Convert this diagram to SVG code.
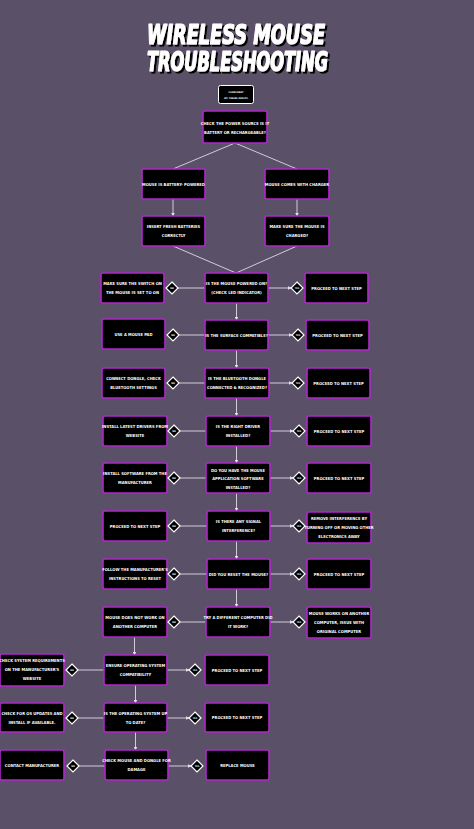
<svg xmlns="http://www.w3.org/2000/svg" width="474" height="829" viewBox="0 0 474 829">
<defs>
<marker id="ah" markerWidth="4" markerHeight="4" refX="3.5" refY="2" orient="auto" markerUnits="userSpaceOnUse"><path d="M0,0 L4,2 L0,4 z" fill="#e6e1ec"/></marker>
<filter id="shadow" x="-5%" y="-20%" width="110%" height="150%"><feDropShadow dx="2" dy="2" stdDeviation="0.4" flood-color="#000" flood-opacity="1"/></filter>
</defs>
<style>
.bg{fill:#5a5068}
.n rect{fill:#000;stroke:#b126cc;stroke-width:1.6}
.t{font-family:"DejaVu Sans Condensed","Liberation Sans",sans-serif;font-size:4.1px;font-weight:bold;fill:#fff;text-anchor:middle}
.dt{font-family:"DejaVu Sans Condensed",sans-serif;font-size:2.4px;font-weight:bold;fill:#fff;text-anchor:middle}
.d polygon{fill:#000;stroke:#fff;stroke-width:1.2}
.c line{stroke:#e0dae8;stroke-width:0.9;fill:none}
.ttl{font-family:"DejaVu Sans Condensed",sans-serif;font-size:26px;font-weight:bold;font-style:italic;text-anchor:middle;fill:#fff;stroke:#fff;stroke-width:1.2;stroke-linejoin:round}
</style>
<rect class="bg" x="0" y="0" width="474" height="829"/>

<g id="title" filter="url(#shadow)">
<text class="ttl" x="236" y="43.5" textLength="178" lengthAdjust="spacingAndGlyphs">WIRELESS MOUSE</text>
<text class="ttl" x="237.5" y="70.5" textLength="181" lengthAdjust="spacingAndGlyphs">TROUBLESHOOTING</text>
</g>
<g id="credit">
<rect x="218.5" y="85.5" width="35" height="18" rx="2" fill="#000" stroke="#fff" stroke-width="1"/>
<text class="dt" x="236" y="92.5">FLOWCHART</text>
<text class="dt" x="236" y="99">BY: TOBIAS PHELPS</text>
</g>

<g id="connectors" class="c">
<line x1="235" y1="143" x2="173" y2="169"/>
<line x1="235" y1="143" x2="297" y2="169"/>
<line x1="173" y1="199" x2="173" y2="216" marker-end="url(#ah)"/>
<line x1="297" y1="199" x2="297" y2="216" marker-end="url(#ah)"/>
<line x1="173" y1="246" x2="236" y2="273"/>
<line x1="297" y1="246" x2="236" y2="273"/>
<line x1="236.5" y1="303" x2="236.5" y2="320" marker-end="url(#ah)"/>
<line x1="236.5" y1="350" x2="236.5" y2="368" marker-end="url(#ah)"/>
<line x1="236.5" y1="398" x2="236.5" y2="416" marker-end="url(#ah)"/>
<line x1="236.5" y1="446" x2="236.5" y2="463" marker-end="url(#ah)"/>
<line x1="236.5" y1="493" x2="236.5" y2="511" marker-end="url(#ah)"/>
<line x1="236.5" y1="541" x2="236.5" y2="559" marker-end="url(#ah)"/>
<line x1="236.5" y1="589" x2="236.5" y2="607" marker-end="url(#ah)"/>
<line x1="134.5" y1="637" x2="134.5" y2="655" marker-end="url(#ah)"/>
<line x1="135.5" y1="685" x2="135.5" y2="703" marker-end="url(#ah)"/>
<line x1="135.5" y1="732" x2="135.5" y2="750" marker-end="url(#ah)"/>
<line x1="205" y1="288" x2="178" y2="288"/><line x1="268" y1="288" x2="291" y2="288" marker-end="url(#ah)"/>
<line x1="205" y1="335" x2="179" y2="335"/><line x1="268" y1="335" x2="292" y2="335" marker-end="url(#ah)"/>
<line x1="205" y1="383" x2="179" y2="383"/><line x1="268" y1="383" x2="292" y2="383" marker-end="url(#ah)"/>
<line x1="206" y1="431" x2="180" y2="431"/><line x1="270" y1="431" x2="293" y2="431" marker-end="url(#ah)"/>
<line x1="206" y1="478" x2="180" y2="478"/><line x1="270" y1="478" x2="293" y2="478" marker-end="url(#ah)"/>
<line x1="207" y1="526" x2="180" y2="526"/><line x1="270" y1="526" x2="293" y2="526" marker-end="url(#ah)"/>
<line x1="207" y1="574" x2="180" y2="574"/><line x1="270" y1="574" x2="293" y2="574" marker-end="url(#ah)"/>
<line x1="206" y1="622" x2="180" y2="622"/><line x1="270" y1="622" x2="293" y2="622" marker-end="url(#ah)"/>
<line x1="104" y1="670" x2="78" y2="670"/><line x1="167" y1="670" x2="189" y2="670" marker-end="url(#ah)"/>
<line x1="104" y1="718" x2="78" y2="718"/><line x1="167" y1="718" x2="189" y2="718" marker-end="url(#ah)"/>
<line x1="105" y1="766" x2="79" y2="766"/><line x1="168" y1="766" x2="191" y2="766" marker-end="url(#ah)"/>
</g>

<g id="n-power-source" class="n"><rect x="203" y="111" width="64" height="32" rx="2"/><text class="t" x="235" y="125">CHECK THE POWER SOURCE IS IT</text><text class="t" x="235" y="134">BATTERY OR RECHARGEABLE?</text></g>
<g id="n-battery" class="n"><rect x="142" y="169" width="63" height="30" rx="2"/><text class="t" x="173.5" y="185.5">MOUSE IS BATTERY- POWERED</text></g>
<g id="n-charger" class="n"><rect x="265" y="169" width="64" height="30" rx="2"/><text class="t" x="297" y="185.5">MOUSE COMES WITH CHARGER</text></g>
<g id="n-insert" class="n"><rect x="142" y="216" width="63" height="30" rx="2"/><text class="t" x="173.5" y="228">INSERT FRESH BATTERIES</text><text class="t" x="173.5" y="237">CORRECTLY</text></g>
<g id="n-charged" class="n"><rect x="265" y="216" width="64" height="30" rx="2"/><text class="t" x="297" y="228">MAKE SURE THE MOUSE IS</text><text class="t" x="297" y="237">CHARGED?</text></g>

<g id="n-powered" class="n"><rect x="205" y="273" width="63" height="30" rx="2"/><text class="t" x="236.5" y="285">IS THE MOUSE POWERED ON?</text><text class="t" x="236.5" y="294">(CHECK LED INDICATOR)</text></g>
<g id="n-switch" class="n"><rect x="101" y="273" width="63" height="30" rx="2"/><text class="t" x="132.5" y="285">MAKE SURE THE SWITCH   ON</text><text class="t" x="132.5" y="294">THE MOUSE IS SET TO ON</text></g>
<g id="n-next1" class="n"><rect x="305" y="273" width="63" height="30" rx="2"/><text class="t" x="336.5" y="289.5">PROCEED TO NEXT STEP</text></g>

<g id="n-surface" class="n"><rect x="205" y="320" width="63" height="30" rx="2"/><text class="t" x="236.5" y="336.5">IS THE SURFACE COMPATIBLE?</text></g>
<g id="n-pad" class="n"><rect x="102" y="319" width="63" height="30" rx="2"/><text class="t" x="133.5" y="335.5">USE A MOUSE PAD</text></g>
<g id="n-next2" class="n"><rect x="306" y="320" width="63" height="30" rx="2"/><text class="t" x="337.5" y="336.5">PROCEED TO NEXT STEP</text></g>

<g id="n-dongle" class="n"><rect x="205" y="368" width="64" height="30" rx="2"/><text class="t" x="237" y="380">IS THE BLUETOOTH DONGLE</text><text class="t" x="237" y="389">CONNECTED &amp; RECOGNIZED?</text></g>
<g id="n-connect" class="n"><rect x="102" y="368" width="63" height="30" rx="2"/><text class="t" x="133.5" y="380">CONNECT DONGLE, CHECK</text><text class="t" x="133.5" y="389">BLUETOOTH SETTINGS</text></g>
<g id="n-next3" class="n"><rect x="307" y="368" width="63" height="30" rx="2"/><text class="t" x="338.5" y="384.5">PROCEED TO NEXT STEP</text></g>

<g id="n-driver" class="n"><rect x="206" y="416" width="64" height="30" rx="2"/><text class="t" x="238" y="428">IS THE RIGHT DRIVER</text><text class="t" x="238" y="437">INSTALLED?</text></g>
<g id="n-drivers" class="n"><rect x="103" y="416" width="64" height="30" rx="2"/><text class="t" x="135" y="428">INSTALL LATEST DRIVERS FROM</text><text class="t" x="135" y="437">WEBSITE</text></g>
<g id="n-next4" class="n"><rect x="307" y="416" width="64" height="30" rx="2"/><text class="t" x="339" y="432.5">PROCEED TO NEXT STEP</text></g>

<g id="n-software" class="n"><rect x="206" y="463" width="64" height="30" rx="2"/><text class="t" x="238" y="471.5">DO YOU HAVE THE MOUSE</text><text class="t" x="238" y="480">APPLICATION SOFTWARE</text><text class="t" x="238" y="488.5">INSTALLED?</text></g>
<g id="n-install-sw" class="n"><rect x="103" y="463" width="64" height="30" rx="2"/><text class="t" x="135" y="475">INSTALL SOFTWARE FROM THE</text><text class="t" x="135" y="484">MANUFACTURER</text></g>
<g id="n-next5" class="n"><rect x="307" y="463" width="64" height="30" rx="2"/><text class="t" x="339" y="479.5">PROCEED TO NEXT STEP</text></g>

<g id="n-interference" class="n"><rect x="207" y="511" width="63" height="30" rx="2"/><text class="t" x="238.5" y="523">IS THERE ANY SIGNAL</text><text class="t" x="238.5" y="532">INTERFERENCE?</text></g>
<g id="n-next6" class="n"><rect x="103" y="511" width="64" height="30" rx="2"/><text class="t" x="135" y="527.5">PROCEED TO NEXT STEP</text></g>
<g id="n-remove" class="n"><rect x="307" y="512" width="64" height="31" rx="2"/><text class="t" x="339" y="519.5">REMOVE INTERFERENCE BY</text><text class="t" x="339" y="528.5">TURNING OFF OR MOVING OTHER</text><text class="t" x="339" y="537.5">ELECTRONICS AWAY</text></g>

<g id="n-reset" class="n"><rect x="207" y="559" width="63" height="30" rx="2"/><text class="t" x="238.5" y="575.5">DID YOU RESET THE MOUSE?</text></g>
<g id="n-follow" class="n"><rect x="103" y="559" width="64" height="30" rx="2"/><text class="t" x="135" y="571">FOLLOW THE MANUFACTURER'S</text><text class="t" x="135" y="580">INSTRUCTIONS TO RESET</text></g>
<g id="n-next7" class="n"><rect x="307" y="559" width="64" height="30" rx="2"/><text class="t" x="339" y="575.5">PROCEED TO NEXT STEP</text></g>

<g id="n-computer" class="n"><rect x="206" y="607" width="64" height="30" rx="2"/><text class="t" x="238" y="619">TRY A DIFFERENT COMPUTER DID</text><text class="t" x="238" y="628">IT WORK?</text></g>
<g id="n-notwork" class="n"><rect x="103" y="607" width="64" height="30" rx="2"/><text class="t" x="135" y="619">MOUSE DOES NOT WORK ON</text><text class="t" x="135" y="628">ANOTHER COMPUTER</text></g>
<g id="n-works" class="n"><rect x="307" y="607" width="64" height="31" rx="2"/><text class="t" x="339" y="614.5">MOUSE WORKS ON ANOTHER</text><text class="t" x="339" y="623.5">COMPUTER, ISSUE WITH</text><text class="t" x="339" y="632.5">ORIGINAL COMPUTER</text></g>

<g id="n-os-compat" class="n"><rect x="104" y="655" width="63" height="30" rx="2"/><text class="t" x="135.5" y="667">ENSURE OPERATING SYSTEM</text><text class="t" x="135.5" y="676">COMPATIBILITY</text></g>
<g id="n-sysreq" class="n"><rect x="0" y="654" width="64" height="32" rx="2"/><text class="t" x="32" y="662">CHECK SYSTEM REQUIREMENTS</text><text class="t" x="32" y="671">ON THE MANUFACTURER'S</text><text class="t" x="32" y="680">WEBSITE</text></g>
<g id="n-next8" class="n"><rect x="205" y="655" width="64" height="30" rx="2"/><text class="t" x="237" y="671.5">PROCEED TO NEXT STEP</text></g>

<g id="n-os-uptodate" class="n"><rect x="104" y="703" width="63" height="29" rx="2"/><text class="t" x="135.5" y="715">IS THE OPERATING SYSTEM UP</text><text class="t" x="135.5" y="724">TO DATE?</text></g>
<g id="n-osupdates" class="n"><rect x="0" y="703" width="64" height="29" rx="2"/><text class="t" x="32" y="715">CHECK FOR OS UPDATES AND</text><text class="t" x="32" y="724">INSTALL IF AVAILABLE.</text></g>
<g id="n-next9" class="n"><rect x="205" y="703" width="64" height="29" rx="2"/><text class="t" x="237" y="719">PROCEED TO NEXT STEP</text></g>

<g id="n-damage" class="n"><rect x="105" y="750" width="63" height="30" rx="2"/><text class="t" x="136.5" y="762">CHECK MOUSE AND DONGLE FOR</text><text class="t" x="136.5" y="771">DAMAGE</text></g>
<g id="n-contact" class="n"><rect x="0" y="750" width="64" height="30" rx="2"/><text class="t" x="32" y="766.5">CONTACT MANUFACTURER</text></g>
<g id="n-replace" class="n"><rect x="206" y="750" width="63" height="30" rx="2"/><text class="t" x="237.5" y="766.5">REPLACE MOUSE</text></g>

<g id="decisions" class="d">
<g id="d-no1"><polygon points="172,282 178,288 172,294 166,288"/><text class="dt" x="172" y="288.9">NO</text></g>
<g id="d-yes1"><polygon points="297,282 303,288 297,294 291,288"/><text class="dt" x="297" y="288.9">YES</text></g>
<g id="d-no2"><polygon points="173,329 179,335 173,341 167,335"/><text class="dt" x="173" y="335.9">NO</text></g>
<g id="d-yes2"><polygon points="298,329 304,335 298,341 292,335"/><text class="dt" x="298" y="335.9">YES</text></g>
<g id="d-no3"><polygon points="173,377 179,383 173,389 167,383"/><text class="dt" x="173" y="383.9">NO</text></g>
<g id="d-yes3"><polygon points="298,377 304,383 298,389 292,383"/><text class="dt" x="298" y="383.9">YES</text></g>
<g id="d-no4"><polygon points="174,425 180,431 174,437 168,431"/><text class="dt" x="174" y="431.9">NO</text></g>
<g id="d-yes4"><polygon points="299,425 305,431 299,437 293,431"/><text class="dt" x="299" y="431.9">YES</text></g>
<g id="d-no5"><polygon points="174,472 180,478 174,484 168,478"/><text class="dt" x="174" y="478.9">NO</text></g>
<g id="d-yes5"><polygon points="299,472 305,478 299,484 293,478"/><text class="dt" x="299" y="478.9">YES</text></g>
<g id="d-no6"><polygon points="174,520 180,526 174,532 168,526"/><text class="dt" x="174" y="526.9">NO</text></g>
<g id="d-yes6"><polygon points="299,520 305,526 299,532 293,526"/><text class="dt" x="299" y="526.9">YES</text></g>
<g id="d-no7"><polygon points="174,568 180,574 174,580 168,574"/><text class="dt" x="174" y="574.9">NO</text></g>
<g id="d-yes7"><polygon points="299,568 305,574 299,580 293,574"/><text class="dt" x="299" y="574.9">YES</text></g>
<g id="d-no8"><polygon points="174,616 180,622 174,628 168,622"/><text class="dt" x="174" y="622.9">NO</text></g>
<g id="d-yes8"><polygon points="299,616 305,622 299,628 293,622"/><text class="dt" x="299" y="622.9">YES</text></g>
<g id="d-no9"><polygon points="72,664 78,670 72,676 66,670"/><text class="dt" x="72" y="670.9">NO</text></g>
<g id="d-yes9"><polygon points="195,664 201,670 195,676 189,670"/><text class="dt" x="195" y="670.9">YES</text></g>
<g id="d-no10"><polygon points="72,712 78,718 72,724 66,718"/><text class="dt" x="72" y="718.9">NO</text></g>
<g id="d-yes10"><polygon points="195,712 201,718 195,724 189,718"/><text class="dt" x="195" y="718.9">YES</text></g>
<g id="d-no11"><polygon points="73,760 79,766 73,772 67,766"/><text class="dt" x="73" y="766.9">NO</text></g>
<g id="d-yes11"><polygon points="197,760 203,766 197,772 191,766"/><text class="dt" x="197" y="766.9">YES</text></g>
</g>
</svg>
